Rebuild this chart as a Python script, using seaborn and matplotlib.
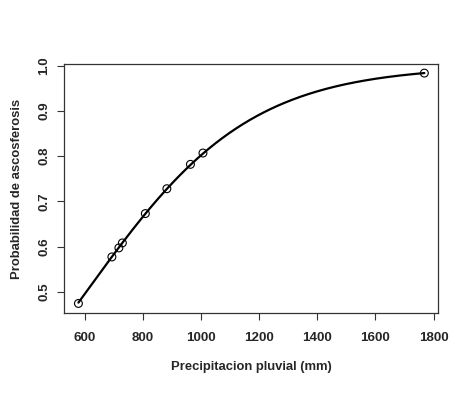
import numpy as np
import pandas as pd
import matplotlib
matplotlib.use("Agg")
import matplotlib.pyplot as plt
import seaborn as sns

# Data
precip = [579, 694, 718, 730, 809, 883, 964, 1007, 1768]
prob = [0.474, 0.577, 0.597, 0.608, 0.673, 0.728, 0.782, 0.807, 0.984]
x_ticks = [600, 800, 1000, 1200, 1400, 1600, 1800]
y_ticks = [0.5, 0.6, 0.7, 0.8, 0.9, 1.0]
x_label = "Precipitacion pluvial (mm)"
y_label = "Probabilidad de ascosferosis"

sns.set_style("white")
plt.rcParams["font.family"] = ["Liberation Sans", "DejaVu Sans"]

pts = pd.DataFrame({"x": precip, "y": prob})
# logistic fit (linear fit on logit scale) from the points
p = np.array(prob)
b, a = np.polyfit(np.array(precip, float), np.log(p / (1 - p)), 1)
xs = np.linspace(min(precip), max(precip), 300)
curve = pd.DataFrame({"x": xs, "y": 1 / (1 + np.exp(-(a + b * xs)))})

fig = plt.figure(figsize=(4.71, 3.93), dpi=100)
ax = fig.add_axes([0.1365, 0.2043, 0.9306 - 0.1365, 0.8364 - 0.2043])

sns.lineplot(data=curve, x="x", y="y", ax=ax, color="black", linewidth=1.6)
sns.scatterplot(data=pts, x="x", y="y", ax=ax, marker="o", s=32,
                facecolor="none", edgecolor="black", linewidth=0.8, zorder=3)

ax.set_xlim(530.4, 1816)
ax.set_ylim(0.4535, 1.0035)
ax.set_xticks(x_ticks)
ax.set_yticks(y_ticks)
ax.set_xticklabels([str(t) for t in x_ticks], fontsize=9.6, fontweight="bold")
ax.set_yticklabels([f"{t:.1f}" for t in y_ticks], fontsize=9.6, fontweight="bold",
                   rotation=90, va="center")
ax.tick_params(axis="x", direction="out", length=5, width=0.8, color="#333333",
               pad=9, bottom=True)
ax.tick_params(axis="y", direction="out", length=5, width=0.8, color="#333333",
               pad=5, left=True)
for s in ax.spines.values():
    s.set_visible(True)
    s.set_color("#333333")
    s.set_linewidth(0.9)
ax.set_xlabel(x_label, fontsize=9.4, fontweight="bold", labelpad=12)
ax.set_ylabel(y_label, fontsize=9.4, fontweight="bold", labelpad=11)

fig.savefig("out.png", dpi=100)
